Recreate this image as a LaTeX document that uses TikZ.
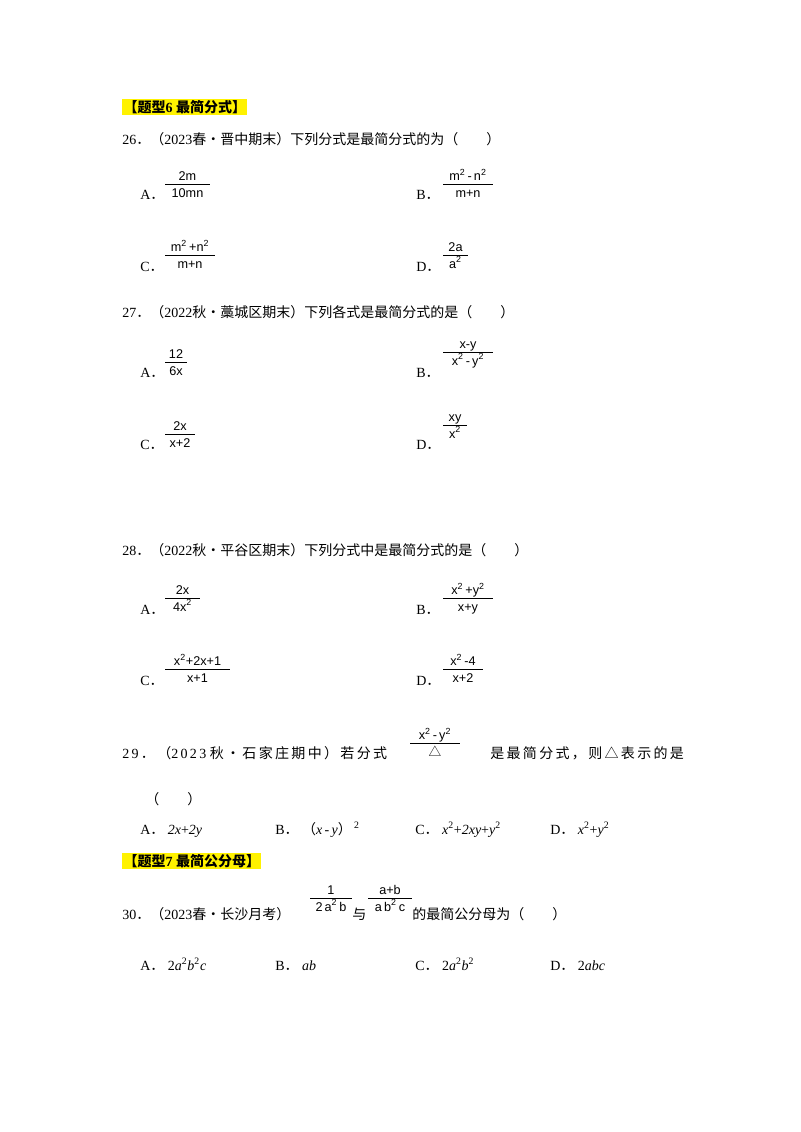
\documentclass[tikz,border=0pt]{standalone}
\usepackage{fontspec}
\setmainfont{Liberation Serif}
\newfontfamily\cjk{Noto Sans CJK SC}
\newfontfamily\frf{Liberation Sans}
\newcommand\C[1]{{\cjk #1}}
\newcommand\sq{\textsuperscript{2}}
\tikzset{txt/.style={anchor=base west,inner sep=0pt,font=\fontsize{10.5}{12}\selectfont},
 fn/.style={inner sep=0pt,font=\frf\fontsize{9.5}{11}\selectfont},
 hl/.style={fill=yellow,inner sep=1pt,anchor=base west,font=\bfseries\fontsize{10.5}{12}\selectfont}}
\newcommand\FR[5]{%
 \draw[line width=0.5pt] (#1,#2) -- ++(#3,0);
 \node[fn,anchor=base] at (#1+#3/2,#2-3.5) {#4};
 \node[fn,anchor=base] at (#1+#3/2,#2+13) {#5};}
\begin{document}
\begin{tikzpicture}[x=0.75pt,y=-0.75pt]
\useasboundingbox (0,0) rectangle (800,1132);
\node[hl] (h6) at (122,112) {\C{【题型}6\ \C{最简分式】}};
\node[txt] (q26) at (122,144) {26\C{．（}2023\C{春•晋中期末）下列分式是最简分式的为（　　）}};
\node[txt] at (140,199) {A\C{．}}; \FR{165}{184}{45}{2m}{10mn}
\node[txt] at (416,199) {B\C{．}}; \FR{443}{184}{50}{m\sq\,-\,n\sq}{m+n}
\node[txt] at (140,271) {C\C{．}}; \FR{165}{255}{50}{m\sq\,+n\sq}{m+n}
\node[txt] at (416,271) {D\C{．}}; \FR{443}{255}{25}{2a}{a\sq}
\node[txt] (q27) at (122,317) {27\C{．（}2022\C{秋•藁城区期末）下列各式是最简分式的是（　　）}};
\node[txt] at (140,377) {A\C{．}}; \FR{165}{362}{22}{12}{6x}
\node[txt] at (416,377) {B\C{．}}; \FR{443}{352}{50}{x-y}{x\sq\,-\,y\sq}
\node[txt] at (140,449) {C\C{．}}; \FR{165}{434}{30}{2x}{x+2}
\node[txt] at (416,449) {D\C{．}}; \FR{443}{425}{24}{xy}{x\sq}
\node[txt] (q28) at (122,555) {28\C{．（}2022\C{秋•平谷区期末）下列分式中是最简分式的是（　　）}};
\node[txt] at (140,614) {A\C{．}}; \FR{165}{598}{35}{2x}{4x\sq}
\node[txt] at (416,614) {B\C{．}}; \FR{443}{598}{50}{x\sq\,+y\sq}{x+y}
\node[txt] at (140,685) {C\C{．}}; \FR{165}{669}{65}{x\sq+2x+1}{x+1}
\node[txt] at (416,685) {D\C{．}}; \FR{443}{669}{40}{x\sq\,-4}{x+2}
\node[txt] (q29) at (122,758) {2\,9\,\C{．}\,\C{（}2\,0\,2\,3\ \C{秋\,•\,石\,家\,庄\,期\,中\,）\,若\,分\,式}};
\FR{410}{743}{50}{x\sq\,-\,y\sq}{\C{△}}
\node[txt] at (490,758) {\C{是\,最\,简\,分\,式\,，\,则\,△\,表\,示\,的\,是}};
\node[txt] at (145,804) {\C{（　　）}};
\node[txt] at (140,834) {A\C{．}\ \textit{2x}+\textit{2y}};
\node[txt] at (275,834) {B\C{．}\ \C{（}\textit{x}\,-\,\textit{y}\C{）}\,\sq};
\node[txt] at (415,834) {C\C{．}\ \textit{x}\sq+\textit{2xy}+\textit{y}\sq};
\node[txt] at (550,834) {D\C{．}\ \textit{x}\sq+\textit{y}\sq};
\node[hl] (h7) at (122,866) {\C{【题型}7\ \C{最简公分母】}};
\node[txt] (q30) at (122,919) {30\C{．（}2023\C{春•长沙月考）}};
\FR{310}{898}{42}{1}{2\,a\sq\,b}
\node[txt] at (352,919) {\C{与}};
\FR{368}{898}{44}{a+b}{a\,b\sq\,c}
\node[txt] at (412,919) {\C{的最简公分母为（　　）}};
\node[txt] at (140,970) {A\C{．}\ 2\textit{a}\sq\textit{b}\sq\textit{c}};
\node[txt] at (275,970) {B\C{．}\ \textit{ab}};
\node[txt] at (415,970) {C\C{．}\ 2\textit{a}\sq\textit{b}\sq};
\node[txt] at (550,970) {D\C{．}\ 2\textit{abc}};
\end{tikzpicture}
\end{document}
